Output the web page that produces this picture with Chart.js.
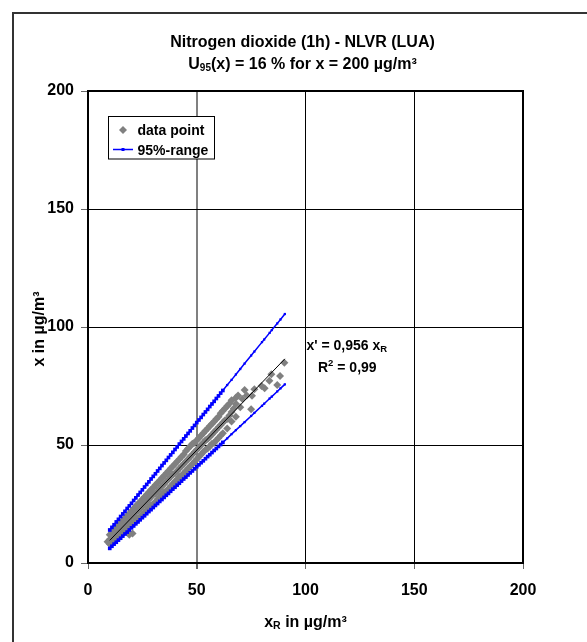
<!DOCTYPE html>
<html>
<head>
<meta charset="utf-8">
<title>Nitrogen dioxide (1h) - NLVR (LUA)</title>
<script src="https://cdn.jsdelivr.net/npm/chart.js@4.4.0/dist/chart.umd.min.js"></script>
<style>
  html, body { margin: 0; padding: 0; background: #fff; }
  canvas { display: block; }
</style>
</head>
<body>
<canvas id="chart" width="587" height="642"></canvas>
<script>
// axis ticks
const axisTicks = [0, 50, 100, 150, 200];

// measured pairs: reference value x_R and candidate value x (µg/m³)
const refX = [
  9,
  10, 10, 10, 11, 11, 11, 12, 12, 12, 13, 13, 13, 14, 14, 14,
  15, 15, 15, 16, 16, 16, 17, 17, 17, 18, 18, 18, 19, 19, 19, 19,
  20, 20, 20, 20.5, 21, 21, 21, 22, 22, 22, 23, 23, 23, 24, 24, 24,
  25, 25, 25, 26, 26, 26, 27, 27, 27, 28, 28, 28, 29, 29, 29,
  30, 30, 30, 31, 31, 31, 32, 32, 32, 33, 33, 33, 34, 34, 34,
  35, 35, 35, 36, 36, 36, 37, 37, 37, 38, 38, 38, 39, 39, 39,
  40, 40, 40, 41, 41, 41, 42, 42, 42, 43, 43, 43, 44, 44, 44,
  45, 45, 45, 46, 46, 46, 47, 47, 47, 48, 48, 48, 49, 49, 49,
  50, 50, 50, 51, 51, 51, 52, 52, 52, 53, 53, 53, 54, 54, 54,
  55, 55, 55, 56, 56, 56, 57, 57, 57, 58, 58, 58, 59, 59, 59,
  60, 60, 60, 61, 61, 61, 62, 62, 62, 63, 63, 64, 64, 64, 65, 65,
  66, 66, 66, 67, 68, 68, 68, 69, 70, 71, 72, 73,
  75, 75.4, 76.5, 79.8, 81.2, 83.4, 84.3, 87, 88.3, 90.3
];
const measY = [
  9.0,
  8.0, 10.0, 12.0, 8.5, 11.0, 13.0, 9.5, 12.0, 14.0, 10.0, 12.5, 15.0, 11.0, 13.5, 16.0,
  11.5, 14.5, 17.0, 12.5, 15.5, 18.0, 13.5, 16.0, 19.0, 14.5, 17.5, 20.0, 12.0, 15.5, 18.0, 21.0,
  16.5, 19.5, 22.0, 12.5, 17.0, 20.0, 23.0, 18.0, 21.5, 24.0, 19.0, 22.0, 25.0, 19.5, 23.0, 26.0,
  20.5, 24.0, 27.0, 21.5, 25.0, 28.0, 22.5, 26.0, 29.0, 23.5, 27.0, 30.0, 24.5, 28.0, 31.0,
  25.0, 29.0, 32.0, 26.0, 29.5, 33.0, 27.0, 30.5, 34.0, 28.0, 31.5, 35.0, 29.0, 32.5, 36.0,
  30.0, 33.5, 37.0, 30.5, 34.5, 38.0, 31.5, 35.5, 39.0, 32.5, 36.5, 40.0, 33.5, 37.5, 41.0,
  34.5, 38.0, 42.0, 35.5, 39.0, 43.0, 36.5, 40.0, 44.0, 37.0, 41.0, 45.0, 38.0, 42.0, 46.0,
  39.0, 43.0, 47.5, 40.0, 44.0, 48.5, 41.0, 45.0, 49.5, 42.0, 46.0, 50.5, 43.0, 47.0, 51.0,
  44.0, 48.0, 52.0, 45.0, 49.0, 53.0, 46.0, 50.0, 54.0, 47.0, 51.0, 55.0, 48.0, 52.0, 56.0,
  48.5, 52.5, 57.0, 49.5, 53.5, 58.0, 50.5, 54.5, 59.0, 51.0, 55.5, 60.0, 52.0, 56.5, 61.0,
  53.0, 57.5, 62.0, 54.0, 58.5, 63.5, 55.0, 59.5, 64.5, 60.5, 65.5, 57.0, 61.0, 66.5, 62.5, 67.5,
  60.0, 64.0, 69.0, 65.5, 62.0, 67.5, 70.0, 71.0, 66.0, 69.5, 73.3, 71.0,
  65.1, 70.9, 73.6, 75.0, 74.0, 77.2, 80.0, 75.4, 79.2, 84.9
];

// 95%-range limits (evaluated at the measured x_R)
const rangeX = [
  10, 11, 12, 13, 14, 15, 16, 17, 18, 19, 20, 21, 22, 23, 24, 25, 26, 27, 28, 29,
  30, 31, 32, 33, 34, 35, 36, 37, 38, 39, 40, 41, 42, 43, 44, 45, 46, 47, 48, 49,
  50, 51, 52, 53, 54, 55, 56, 57, 58, 59, 60, 61, 62,
  64, 66, 68, 70, 72, 75, 76.5, 80, 81, 83.5, 84.5, 87, 88.5, 90.5
];
const upperY = [
  14.0, 15.1, 16.2, 17.4, 18.5, 19.7, 20.8, 21.9, 23.1, 24.2, 25.3, 26.5, 27.6, 28.8, 29.9, 31.0, 32.2, 33.3, 34.4, 35.6,
  36.7, 37.8, 39.0, 40.1, 41.3, 42.4, 43.5, 44.7, 45.8, 46.9, 48.1, 49.2, 50.4, 51.5, 52.6, 53.8, 54.9, 56.0, 57.2, 58.3,
  59.5, 60.6, 61.7, 62.9, 64.0, 65.1, 66.3, 67.4, 68.5, 69.7, 70.8, 72.0, 73.1,
  75.4, 77.6, 79.9, 82.2, 84.5, 87.9, 89.6, 93.6, 94.7, 97.5, 98.7, 101.5, 103.2, 105.5
];
const lowerY = [
  6.2, 7.1, 8.0, 8.8, 9.7, 10.5, 11.4, 12.3, 13.1, 14.0, 14.9, 15.7, 16.6, 17.4, 18.3, 19.2, 20.0, 20.9, 21.8, 22.6,
  23.5, 24.4, 25.2, 26.1, 26.9, 27.8, 28.7, 29.5, 30.4, 31.3, 32.1, 33.0, 33.8, 34.7, 35.6, 36.4, 37.3, 38.2, 39.0, 39.9,
  40.8, 41.6, 42.5, 43.3, 44.2, 45.1, 45.9, 46.8, 47.7, 48.5, 49.4, 50.2, 51.1,
  52.8, 54.6, 56.3, 58.0, 59.7, 62.3, 63.6, 66.6, 67.5, 69.7, 70.5, 72.7, 74.0, 75.7
];

// regression x' = 0,956 x_R
const fitX = [10, 90.5];
const fitY = [9.6, 86.5];

const FONT = "'Liberation Sans', Arial, sans-serif";
const GRAY = '#808080';
const BLUE = '#0000ff';

const toPoints = (xs, ys) => xs.map((x, i) => ({ x: x, y: ys[i] }));
// markers are dense (thick) in the crowded part and small further up
const bandRadius = c => (c.raw && c.raw.x <= 62 ? 2.6 : 1.6);

// draws a line of text made of parts, some of them sub- or superscript
function drawParts(ctx, parts, x, y, align) {
  let total = 0;
  parts.forEach(p => {
    ctx.font = 'bold ' + p.size + 'px ' + FONT;
    p.w = ctx.measureText(p.text).width;
    total += p.w;
  });
  let cx = align === 'center' ? x - total / 2 : x;
  ctx.textAlign = 'left';
  ctx.textBaseline = 'alphabetic';
  parts.forEach(p => {
    ctx.font = 'bold ' + p.size + 'px ' + FONT;
    ctx.fillText(p.text, cx, y + (p.dy || 0));
    cx += p.w;
  });
}

const extras = {
  id: 'extras',
  beforeDraw(chart) {
    const ctx = chart.ctx;
    ctx.save();
    ctx.fillStyle = '#fff';
    ctx.fillRect(0, 0, chart.width, chart.height);
    // outer frame
    ctx.strokeStyle = '#333';
    ctx.lineWidth = 2;
    ctx.beginPath();
    ctx.moveTo(13, chart.height);
    ctx.lineTo(13, 13);
    ctx.lineTo(chart.width, 13);
    ctx.stroke();
    ctx.restore();
  },
  afterDraw(chart) {
    const ctx = chart.ctx;
    const a = chart.chartArea;
    ctx.save();

    // plot border
    ctx.strokeStyle = '#000';
    ctx.lineWidth = 2;
    ctx.strokeRect(a.left, a.top, a.right - a.left, a.bottom - a.top);

    ctx.fillStyle = '#000';
    // title
    drawParts(ctx, [{ text: 'Nitrogen dioxide (1h) - NLVR (LUA)', size: 16 }], 302.5, 47, 'center');
    drawParts(ctx, [
      { text: 'U', size: 16 },
      { text: '95', size: 10, dy: 2 },
      { text: '(x) = 16 % for x = 200 µg/m³', size: 16 }
    ], 302.5, 69, 'center');

    // x axis title
    drawParts(ctx, [
      { text: 'x', size: 16 },
      { text: 'R', size: 10.5, dy: 2 },
      { text: ' in µg/m³', size: 16 }
    ], 305.5, 627, 'center');

    // y axis title
    ctx.save();
    ctx.translate(44, 329);
    ctx.rotate(-Math.PI / 2);
    drawParts(ctx, [{ text: 'x in µg/m³', size: 16 }], 0, 0, 'center');
    ctx.restore();

    // regression label
    drawParts(ctx, [
      { text: "x' = 0,956 x", size: 14 },
      { text: 'R', size: 9.5, dy: 2 }
    ], 306.5, 350, 'left');
    drawParts(ctx, [
      { text: 'R', size: 14 },
      { text: '2', size: 9.5, dy: -6 },
      { text: ' = 0,99', size: 14 }
    ], 318, 372, 'left');

    // legend
    ctx.fillStyle = '#fff';
    ctx.fillRect(108.5, 116.5, 106, 42.5);
    ctx.strokeStyle = '#000';
    ctx.lineWidth = 1;
    ctx.strokeRect(108.5, 116.5, 106, 42.5);

    ctx.fillStyle = GRAY;
    ctx.beginPath();
    ctx.moveTo(123, 126);
    ctx.lineTo(127, 130);
    ctx.lineTo(123, 134);
    ctx.lineTo(119, 130);
    ctx.closePath();
    ctx.fill();

    ctx.strokeStyle = BLUE;
    ctx.lineWidth = 1.5;
    ctx.beginPath();
    ctx.moveTo(113, 149.5);
    ctx.lineTo(133, 149.5);
    ctx.stroke();
    ctx.fillStyle = BLUE;
    ctx.fillRect(121.5, 148, 3, 3);

    ctx.fillStyle = '#000';
    drawParts(ctx, [{ text: 'data point', size: 14 }], 137.5, 135, 'left');
    drawParts(ctx, [{ text: '95%-range', size: 14 }], 137.5, 154.5, 'left');

    ctx.restore();
  }
};

new Chart(document.getElementById('chart'), {
  type: 'scatter',
  data: {
    datasets: [
      {
        label: 'fit',
        data: toPoints(fitX, fitY),
        showLine: true,
        borderColor: '#000',
        borderWidth: 1,
        pointRadius: 0,
        order: 1
      },
      {
        label: '95%-range',
        data: toPoints(rangeX, upperY),
        showLine: true,
        borderColor: BLUE,
        backgroundColor: BLUE,
        borderWidth: 1.5,
        pointStyle: 'rect',
        pointRadius: bandRadius,
        pointBorderWidth: 0,
        order: 2
      },
      {
        label: '95%-range low',
        data: toPoints(rangeX, lowerY),
        showLine: true,
        borderColor: BLUE,
        backgroundColor: BLUE,
        borderWidth: 1.5,
        pointStyle: 'rect',
        pointRadius: bandRadius,
        pointBorderWidth: 0,
        order: 2
      },
      {
        label: 'data point',
        data: toPoints(refX, measY),
        backgroundColor: GRAY,
        borderColor: GRAY,
        pointStyle: 'rectRot',
        pointRadius: 4,
        pointBorderWidth: 0,
        order: 3
      }
    ]
  },
  options: {
    responsive: false,
    devicePixelRatio: 1,
    animation: false,
    layout: { padding: { top: 91, right: 64, left: 0, bottom: 0 } },
    plugins: {
      legend: { display: false },
      tooltip: { enabled: false },
      title: { display: false }
    },
    scales: {
      x: {
        type: 'linear',
        min: 0,
        max: 200,
        afterBuildTicks: s => { s.ticks = axisTicks.map(v => ({ value: v })); },
        afterFit: s => { s.height = 79; },
        border: { display: false },
        grid: {
          color: c => (c.tick && c.tick.value === 50 ? GRAY : '#000'),
          lineWidth: c => (c.tick && c.tick.value === 50 ? 2 : 1),
          tickColor: '#666',
          tickLength: 6
        },
        ticks: {
          color: '#000',
          padding: 12,
          font: { family: FONT, size: 16, weight: 'bold' }
        }
      },
      y: {
        type: 'linear',
        min: 0,
        max: 200,
        afterBuildTicks: s => { s.ticks = axisTicks.map(v => ({ value: v })); },
        afterFit: s => { s.width = 88; },
        border: { display: false },
        grid: {
          color: '#000',
          lineWidth: 1,
          tickColor: '#666',
          tickLength: 7
        },
        ticks: {
          color: '#000',
          padding: 7,
          font: { family: FONT, size: 16, weight: 'bold' }
        }
      }
    }
  },
  plugins: [extras]
});
</script>
</body>
</html>
